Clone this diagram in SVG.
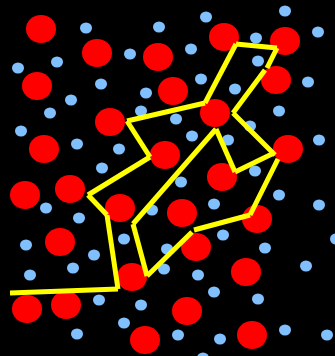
<svg xmlns="http://www.w3.org/2000/svg" width="335" height="356" viewBox="0 0 335 356">
<style>
.r{fill:#ff0000}
.b{fill:#80c0ff}
.y{stroke:#ffff00;stroke-width:5;fill:none;stroke-linecap:butt}
</style>
<rect width="335" height="356" fill="#000"/>
<g id="blue">
<ellipse class="b" cx="86" cy="28" rx="6" ry="5.5"/>
<ellipse class="b" cx="159" cy="27" rx="6" ry="5.5"/>
<ellipse class="b" cx="130" cy="54" rx="6" ry="5.5"/>
<ellipse class="b" cx="57" cy="62" rx="6" ry="5.5"/>
<ellipse class="b" cx="18" cy="68" rx="6" ry="5.5"/>
<ellipse class="b" cx="101" cy="84" rx="6" ry="5.5"/>
<ellipse class="b" cx="146" cy="93" rx="6" ry="5.5"/>
<ellipse class="b" cx="71" cy="100" rx="6" ry="5.5"/>
<ellipse class="b" cx="50" cy="113" rx="6" ry="5.5"/>
<ellipse class="b" cx="141" cy="111" rx="6" ry="5.5"/>
<ellipse class="b" cx="21" cy="131" rx="6" ry="5.5"/>
<ellipse class="b" cx="77" cy="144" rx="6" ry="5.5"/>
<ellipse class="b" cx="119" cy="149" rx="6" ry="5.5"/>
<ellipse class="b" cx="102" cy="168" rx="6" ry="5.5"/>
<ellipse class="b" cx="206" cy="17" rx="6" ry="5.5"/>
<ellipse class="b" cx="285" cy="11" rx="6" ry="5.5"/>
<ellipse class="b" cx="318" cy="32" rx="6" ry="5.5"/>
<ellipse class="b" cx="256" cy="38" rx="6" ry="5.5"/>
<ellipse class="b" cx="191" cy="49" rx="6" ry="5.5"/>
<ellipse class="b" cx="258" cy="61" rx="6" ry="5.5"/>
<ellipse class="b" cx="201" cy="79" rx="6" ry="5.5"/>
<ellipse class="b" cx="308" cy="82" rx="6" ry="5.5"/>
<ellipse class="b" cx="235" cy="89" rx="6" ry="5.5"/>
<ellipse class="b" cx="279" cy="111" rx="6" ry="5.5"/>
<ellipse class="b" cx="176" cy="119" rx="6" ry="5.5"/>
<ellipse class="b" cx="250" cy="126" rx="6" ry="5.5"/>
<ellipse class="b" cx="192" cy="136" rx="6" ry="5.5"/>
<ellipse class="b" cx="228" cy="140" rx="6" ry="5.5"/>
<ellipse class="b" cx="319" cy="140" rx="6" ry="5.5"/>
<ellipse class="b" cx="255" cy="171" rx="6" ry="5.5"/>
<ellipse class="b" cx="181" cy="182" rx="6" ry="5.5"/>
<ellipse class="b" cx="46" cy="208" rx="6" ry="5.5"/>
<ellipse class="b" cx="79" cy="218" rx="6" ry="5.5"/>
<ellipse class="b" cx="152" cy="210" rx="6" ry="5.5"/>
<ellipse class="b" cx="26" cy="245" rx="6" ry="5.5"/>
<ellipse class="b" cx="94" cy="255" rx="6" ry="5.5"/>
<ellipse class="b" cx="124" cy="239" rx="6" ry="5.5"/>
<ellipse class="b" cx="73" cy="268" rx="6" ry="5.5"/>
<ellipse class="b" cx="30" cy="275" rx="6" ry="5.5"/>
<ellipse class="b" cx="167" cy="249" rx="6" ry="5.5"/>
<ellipse class="b" cx="164" cy="269" rx="6" ry="5.5"/>
<ellipse class="b" cx="99" cy="300" rx="6" ry="5.5"/>
<ellipse class="b" cx="141" cy="305" rx="6" ry="5.5"/>
<ellipse class="b" cx="124" cy="323" rx="6" ry="5.5"/>
<ellipse class="b" cx="77" cy="334" rx="6" ry="5.5"/>
<ellipse class="b" cx="279" cy="195" rx="6" ry="5.5"/>
<ellipse class="b" cx="319" cy="205" rx="6" ry="5.5"/>
<ellipse class="b" cx="214" cy="204" rx="6" ry="5.5"/>
<ellipse class="b" cx="223" cy="235" rx="6" ry="5.5"/>
<ellipse class="b" cx="265" cy="248" rx="6" ry="5.5"/>
<ellipse class="b" cx="336" cy="239" rx="6" ry="5.5"/>
<ellipse class="b" cx="306" cy="266" rx="6" ry="5.5"/>
<ellipse class="b" cx="198" cy="275" rx="6" ry="5.5"/>
<ellipse class="b" cx="214" cy="292" rx="6" ry="5.5"/>
<ellipse class="b" cx="258" cy="299" rx="6" ry="5.5"/>
<ellipse class="b" cx="178" cy="335" rx="6" ry="5.5"/>
<ellipse class="b" cx="220" cy="339" rx="6" ry="5.5"/>
<ellipse class="b" cx="285" cy="330" rx="6" ry="5.5"/>
<ellipse class="b" cx="327" cy="335" rx="6" ry="5.5"/>
<ellipse class="b" cx="203" cy="358" rx="6" ry="5.5"/>
</g>
<g id="red">
<ellipse class="r" cx="41" cy="29" rx="15" ry="14"/>
<ellipse class="r" cx="97" cy="53" rx="15" ry="14"/>
<ellipse class="r" cx="158" cy="57" rx="15" ry="14"/>
<ellipse class="r" cx="224" cy="37" rx="15" ry="14"/>
<ellipse class="r" cx="285" cy="41" rx="15" ry="14"/>
<ellipse class="r" cx="37" cy="86" rx="15" ry="14"/>
<ellipse class="r" cx="173" cy="91" rx="15" ry="14"/>
<ellipse class="r" cx="276" cy="80" rx="15" ry="14"/>
<ellipse class="r" cx="110" cy="122" rx="15" ry="14"/>
<ellipse class="r" cx="215" cy="113" rx="15" ry="14"/>
<ellipse class="r" cx="44" cy="149" rx="15" ry="14"/>
<ellipse class="r" cx="165" cy="155" rx="15" ry="14"/>
<ellipse class="r" cx="288" cy="149" rx="15" ry="14"/>
<ellipse class="r" cx="222" cy="177" rx="15" ry="14"/>
<ellipse class="r" cx="70" cy="189" rx="15" ry="14"/>
<ellipse class="r" cx="25" cy="195" rx="15" ry="14"/>
<ellipse class="r" cx="120" cy="208" rx="15" ry="14"/>
<ellipse class="r" cx="182" cy="213" rx="15" ry="14"/>
<ellipse class="r" cx="257" cy="219" rx="15" ry="14"/>
<ellipse class="r" cx="60" cy="242" rx="15" ry="14"/>
<ellipse class="r" cx="196" cy="247" rx="15" ry="14"/>
<ellipse class="r" cx="132" cy="277" rx="15" ry="14"/>
<ellipse class="r" cx="246" cy="272" rx="15" ry="14"/>
<ellipse class="r" cx="27" cy="309" rx="15" ry="14"/>
<ellipse class="r" cx="66" cy="305" rx="15" ry="14"/>
<ellipse class="r" cx="187" cy="311" rx="15" ry="14"/>
<ellipse class="r" cx="145" cy="340" rx="15" ry="14"/>
<ellipse class="r" cx="252" cy="335" rx="15" ry="14"/>
</g>
<g id="connectors" class="y">
<line x1="10" y1="293" x2="118" y2="289"/>
<line x1="118" y1="289" x2="107" y2="215"/>
<line x1="107" y1="215" x2="88" y2="195"/>
<line x1="88" y1="195" x2="150" y2="157"/>
<line x1="150" y1="157" x2="127" y2="121"/>
<line x1="127" y1="121" x2="205" y2="103"/>
<line x1="205" y1="103" x2="236" y2="44"/>
<line x1="236" y1="44" x2="277" y2="48"/>
<line x1="277" y1="48" x2="267" y2="68"/>
<line x1="265" y1="70" x2="233" y2="113"/>
<line x1="233" y1="113" x2="275" y2="155"/>
<line x1="216" y1="129" x2="235" y2="172"/>
<line x1="235" y1="172" x2="274" y2="153"/>
<line x1="278" y1="159" x2="250" y2="215"/>
<line x1="250" y1="215" x2="194" y2="230"/>
<line x1="192" y1="232" x2="147" y2="276"/>
<line x1="147" y1="276" x2="133" y2="224"/>
<line x1="133" y1="224" x2="216" y2="129"/>
</g>
</svg>
